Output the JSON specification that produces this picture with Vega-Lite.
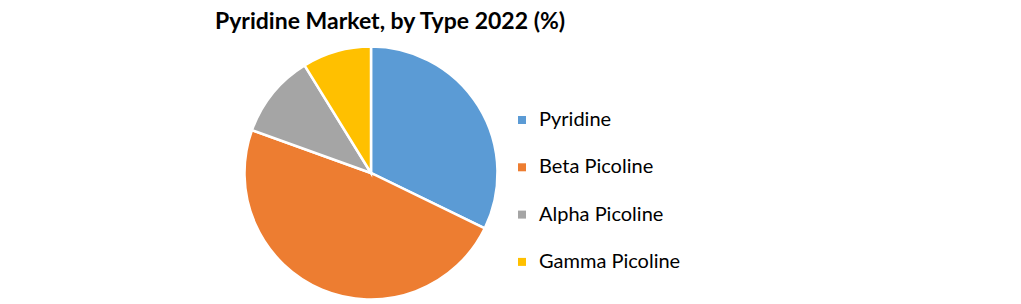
{
  "$schema": "https://vega.github.io/schema/vega-lite/v6.json",
  "width": 254,
  "height": 254,
  "autosize": "none",
  "padding": {"left": 244, "top": 46, "right": 523, "bottom": 4},
  "background": "white",
  "title": {
    "text": "Pyridine Market, by Type 2022 (%)",
    "font": "Lato",
    "fontSize": 23,
    "fontWeight": "bold",
    "color": "#000000",
    "anchor": "start",
    "frame": "group",
    "dx": -29,
    "offset": 8
  },
  "data": {
    "values": [
      {"type": "Pyridine", "share": 32.2, "order": 1},
      {"type": "Beta Picoline", "share": 48.3, "order": 2},
      {"type": "Alpha Picoline", "share": 10.7, "order": 3},
      {"type": "Gamma Picoline", "share": 8.8, "order": 4}
    ]
  },
  "mark": {"type": "arc", "outerRadius": 126.5, "stroke": "white", "strokeWidth": 2.5},
  "encoding": {
    "theta": {"field": "share", "type": "quantitative", "stack": true},
    "order": {"field": "order", "type": "quantitative", "sort": "ascending"},
    "color": {
      "field": "type",
      "type": "nominal",
      "scale": {
        "domain": ["Pyridine", "Beta Picoline", "Alpha Picoline", "Gamma Picoline"],
        "range": ["#5B9BD5", "#ED7D31", "#A5A5A5", "#FFC000"]
      },
      "legend": {
        "title": null,
        "orient": "none",
        "legendX": 268,
        "legendY": 64,
        "symbolType": "square",
        "symbolSize": 64,
        "symbolStrokeWidth": 0,
        "labelFont": "Lato",
        "labelFontSize": 20,
        "labelColor": "#000000",
        "labelOffset": 7,
        "rowPadding": 27.3,
        "padding": 0
      }
    }
  },
  "config": {"view": {"stroke": null}}
}
